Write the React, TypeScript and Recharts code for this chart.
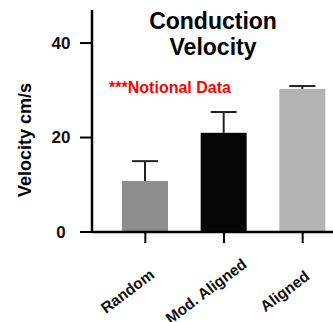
import React from 'react'
import { BarChart, Bar, XAxis, YAxis, Cell } from 'recharts'

// groups and values
const groups = ['Random', 'Mod. Aligned', 'Aligned']
const velocity = [10.8, 21.0, 30.3]
const errorUp = [4.2, 4.4, 0.6]
const barColors = ['#8e8e8e', '#050505', '#b3b3b3']
const yTicks = [0, 20, 40]

const data = groups.map((g, i) => ({ group: g, velocity: velocity[i], err: errorUp[i] }))

const FONT = 'Arial, "Liberation Sans", Helvetica, sans-serif'

// bar + one-sided error whisker, scaled from the bar's own pixel height
const BarWithError = (props: any) => {
  const { x, y, width, height, fill, payload } = props
  const perUnit = payload.velocity ? height / payload.velocity : 0
  const top = y - payload.err * perUnit
  const cx = x + width / 2
  return (
    <g>
      <rect x={x} y={y} width={width} height={height} fill={fill} />
      <line x1={cx} y1={y} x2={cx} y2={top} stroke="#222" strokeWidth={2} />
      <line x1={cx - 13} y1={top} x2={cx + 13} y2={top} stroke="#222" strokeWidth={2} />
    </g>
  )
}

const XTick = ({ x, y, payload }: any) => (
  <g transform={`translate(${x},${y})`}>
    <text
      x={-18}
      y={46}
      transform="rotate(-37,-18,46)"
      textAnchor="middle"
      dominantBaseline="central"
      fontFamily={FONT}
      fontWeight="bold"
      fontSize={15.5}
      fill="#111"
    >
      {payload.value}
    </text>
  </g>
)

const YTick = ({ y, payload }: any) => (
  <text
    x={61}
    y={y}
    textAnchor="middle"
    dominantBaseline="central"
    fontFamily={FONT}
    fontWeight="bold"
    fontSize={17}
    fill="#111"
  >
    {payload.value}
  </text>
)

export default function App() {
  return (
    <div
      style={{
        position: 'fixed',
        left: 0,
        top: 0,
        width: 333,
        height: 322,
        overflow: 'hidden',
        background: '#fff',
      }}
    >
      <BarChart
        width={350}
        height={322}
        data={data}
        margin={{ top: 10, right: 0, bottom: 0, left: 0 }}
        barSize={46}
      >
        <YAxis
          width={92}
          domain={[0, 47]}
          ticks={yTicks}
          tickSize={12}
          tick={<YTick />}
          axisLine={{ stroke: '#000', strokeWidth: 2.5 }}
          tickLine={{ stroke: '#000', strokeWidth: 2 }}
          allowDataOverflow
        />
        <XAxis
          dataKey="group"
          height={90}
          padding={{ left: 14, right: 8 }}
          tickSize={11}
          tick={<XTick />}
          interval={0}
          axisLine={{ stroke: '#000', strokeWidth: 2.5 }}
          tickLine={{ stroke: '#000', strokeWidth: 2 }}
        />
        <Bar dataKey="velocity" shape={<BarWithError />} isAnimationActive={false}>
          {data.map((d, i) => (
            <Cell key={d.group} fill={barColors[i]} />
          ))}
        </Bar>
      </BarChart>

      <svg
        width={333}
        height={322}
        style={{ position: 'absolute', left: 0, top: 0, pointerEvents: 'none' }}
      >
        <text x={213} y={29} textAnchor="middle" fontFamily={FONT} fontWeight="bold" fontSize={23} fill="#000">
          Conduction
        </text>
        <text x={213} y={55} textAnchor="middle" fontFamily={FONT} fontWeight="bold" fontSize={23} fill="#000">
          Velocity
        </text>
        <text x={170} y={93} textAnchor="middle" fontFamily={FONT} fontWeight="bold" fontSize={16} fill="#ff0000">
          ***Notional Data
        </text>
        <text
          x={31}
          y={140}
          transform="rotate(-90,31,140)"
          textAnchor="middle"
          fontFamily={FONT}
          fontWeight="bold"
          fontSize={18}
          fill="#000"
        >
          Velocity cm/s
        </text>
      </svg>
    </div>
  )
}
